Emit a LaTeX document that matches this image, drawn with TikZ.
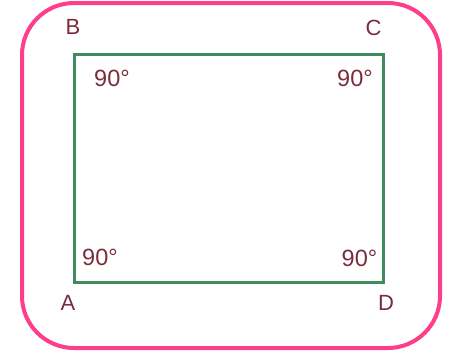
\documentclass[tikz,border=0pt]{standalone}
\usepackage{fontspec}
\setmainfont{Liberation Sans}
\definecolor{frame}{HTML}{FF3D8A}
\definecolor{sq}{HTML}{3E8C5E}
\definecolor{lbl}{HTML}{7A2C3C}
\begin{document}
\begin{tikzpicture}[x=1pt,y=-1pt,
  vtx/.style={text=lbl,font=\fontsize{22}{22}\selectfont,inner sep=0pt},
  ang/.style={text=lbl,font=\fontsize{23.5}{23.5}\selectfont,inner sep=0pt}]
\useasboundingbox (0,0) rectangle (456,354);
\draw[frame,line width=4pt,rounded corners=52pt] (22,3) rectangle (440,348);
\coordinate (Bc) at (74,54);
\coordinate (Cc) at (383,54);
\coordinate (Dc) at (383,282);
\coordinate (Ac) at (74,282);
\draw[sq,line width=3pt] (Ac) -- (Bc) -- (Cc) -- (Dc) -- cycle;
\node[vtx] (B) at (73,27) {B};
\node[vtx] (C) at (373.5,28) {C};
\node[vtx] (A) at (68,303) {A};
\node[vtx] (D) at (386,303) {D};
\node[ang] (b90) at (112,78) {90°};
\node[ang] (c90) at (355,78) {90°};
\node[ang] (a90) at (100,257.5) {90°};
\node[ang] (d90) at (359.5,258.5) {90°};
\end{tikzpicture}
\end{document}
